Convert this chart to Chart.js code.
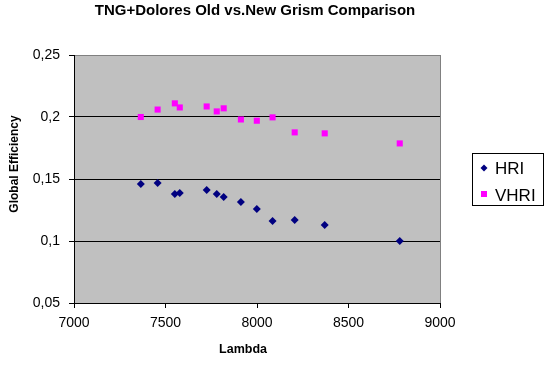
<!DOCTYPE html>
<html>
<head>
<meta charset="utf-8">
<script src="https://cdn.jsdelivr.net/npm/chart.js@4/dist/chart.umd.min.js"></script>
<style>
  html, body { margin: 0; padding: 0; background: #fff; }
  #wrap { width: 551px; height: 369px; position: relative; }
</style>
</head>
<body>
<div id="wrap"><canvas id="c" width="551" height="369"></canvas></div>
<script>
const chartTitle = "TNG+Dolores Old vs.New Grism Comparison";
const xTitle = "Lambda";
const yTitle = "Global Efficiency";
const seriesNames = ["HRI", "VHRI"];
const lambda = [7365, 7457, 7551, 7578, 7725, 7780, 7818, 7912, 7999, 8085, 8206, 8370, 8780];
const hri  = [0.146, 0.1468, 0.1379, 0.1387, 0.1411, 0.1379, 0.1355, 0.1315, 0.1258, 0.1161, 0.1169, 0.1129, 0.100];
const vhri = [0.200, 0.206, 0.211, 0.2077, 0.2085, 0.2045, 0.207, 0.198, 0.197, 0.1997, 0.1876, 0.1868, 0.1787];
const yTicks = [0.05, 0.1, 0.15, 0.2, 0.25];
const xTicks = [7000, 7500, 8000, 8500, 9000];

const toPts = (ys) => lambda.map((x, i) => ({ x: x, y: ys[i] }));
const FONT = "'Liberation Sans', Arial, sans-serif";

const decor = {
  id: 'decor',
  beforeDraw(chart) {
    const { ctx, chartArea: a } = chart;
    ctx.save();
    ctx.fillStyle = '#C0C0C0';
    ctx.fillRect(a.left, a.top, a.right - a.left, a.bottom - a.top);
    ctx.restore();
  },
  afterDraw(chart) {
    const { ctx, chartArea: a } = chart;
    ctx.save();
    // right border
    ctx.strokeStyle = '#808080';
    ctx.lineWidth = 1;
    ctx.beginPath();
    ctx.moveTo(Math.round(a.right) + 0.5, a.top);
    ctx.lineTo(Math.round(a.right) + 0.5, a.bottom);
    ctx.stroke();
    // title
    ctx.fillStyle = '#000';
    ctx.textAlign = 'center';
    ctx.textBaseline = 'middle';
    ctx.font = 'bold 15px ' + FONT;
    ctx.fillText(chartTitle, 255, 11);
    // x title
    ctx.font = 'bold 12.5px ' + FONT;
    ctx.fillText(xTitle, 243, 350);
    // y title
    ctx.save();
    ctx.translate(15, 164);
    ctx.rotate(-Math.PI / 2);
    ctx.font = 'bold 12px ' + FONT;
    ctx.fillText(yTitle, 0, 0);
    ctx.restore();
    // legend
    ctx.fillStyle = '#fff';
    ctx.fillRect(472, 153, 71, 52);
    ctx.strokeStyle = '#000';
    ctx.strokeRect(472.5, 153.5, 71, 52);
    const ds = chart.data.datasets;
    ctx.fillStyle = ds[0].backgroundColor;
    ctx.beginPath();
    ctx.moveTo(484, 164.5); ctx.lineTo(487.5, 168); ctx.lineTo(484, 171.5); ctx.lineTo(480.5, 168);
    ctx.closePath(); ctx.fill();
    ctx.fillStyle = ds[1].backgroundColor;
    ctx.fillRect(481, 191, 6, 6);
    ctx.fillStyle = '#000';
    ctx.textAlign = 'left';
    ctx.font = '17px ' + FONT;
    ctx.fillText(ds[0].label, 495, 169);
    ctx.fillText(ds[1].label, 495, 196);
    ctx.restore();
  }
};

new Chart(document.getElementById('c'), {
  type: 'scatter',
  data: {
    datasets: [
      { label: seriesNames[0], data: toPts(hri), backgroundColor: '#000080', borderColor: '#000080',
        pointStyle: 'rectRot', pointRadius: 4, borderWidth: 0 },
      { label: seriesNames[1], data: toPts(vhri), backgroundColor: '#FF00FF', borderColor: '#FF00FF',
        pointStyle: 'rect', pointRadius: 4.3, borderWidth: 0 }
    ]
  },
  plugins: [decor],
  options: {
    responsive: false,
    animation: false,
    events: [],
    layout: { padding: { left: 0, right: 111, top: 55, bottom: 0 } },
    plugins: { legend: { display: false }, title: { display: false }, tooltip: { enabled: false } },
    scales: {
      x: {
        type: 'linear', min: 7000, max: 9000,
        afterBuildTicks: (s) => { s.ticks = xTicks.map(v => ({ value: v })); },
        afterFit: (s) => { s.height = 66; },
        grid: { drawOnChartArea: false, drawTicks: true, tickLength: 5, tickColor: '#000' },
        border: { display: true, color: '#000', width: 1 },
        ticks: { color: '#000', font: { family: FONT, size: 14 }, padding: 7, maxRotation: 0,
                 callback: (v) => String(v) }
      },
      y: {
        type: 'linear', min: 0.05, max: 0.25,
        afterBuildTicks: (s) => { s.ticks = yTicks.map(v => ({ value: v })); },
        afterFit: (s) => { s.width = 74; },
        grid: {
          drawTicks: true, tickLength: 5, tickColor: '#000',
          color: (c) => (c.tick && Math.abs(c.tick.value - 0.25) < 1e-9) ? '#808080' : '#000'
        },
        border: { display: true, color: '#000', width: 1 },
        ticks: { color: '#000', font: { family: FONT, size: 14 }, padding: 9,
                 callback: (v) => String(Math.round(v * 100) / 100).replace('.', ',') }
      }
    }
  }
});
</script>
</body>
</html>
